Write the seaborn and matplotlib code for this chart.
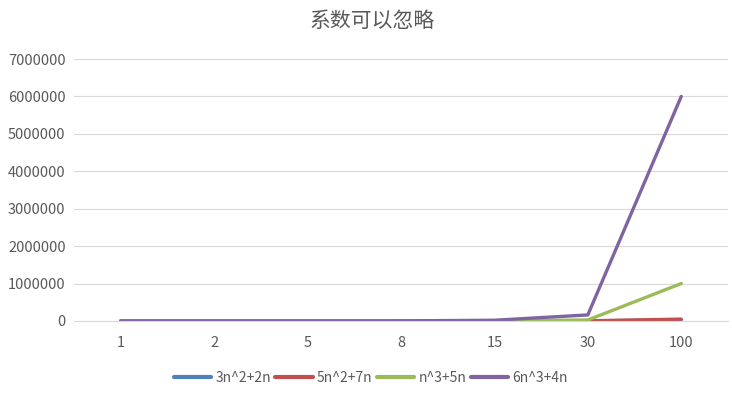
import matplotlib
matplotlib.use("Agg")
import matplotlib.pyplot as plt
import seaborn as sns
import pandas as pd
from matplotlib.ticker import FuncFormatter

categories = ["1", "2", "5", "8", "15", "30", "100"]
s1 = [5, 16, 85, 208, 705, 2760, 30200]
s2 = [12, 34, 160, 376, 1230, 4710, 50700]
s3 = [6, 18, 150, 552, 3450, 27150, 1000500]
s4 = [10, 56, 770, 3104, 20310, 162120, 6000400]
series_names = ["3n^2+2n", "5n^2+7n", "n^3+5n", "6n^3+4n"]
colors = ["#4F81BD", "#C0504D", "#9BBB59", "#8064A2"]
title = "系数可以忽略"

sns.set_theme(style="white")
plt.rcParams['font.family'] = ['Noto Sans CJK SC', 'DejaVu Sans']

rows = []
for name, vals in zip(series_names, [s1, s2, s3, s4]):
    for c, v in zip(categories, vals):
        rows.append({"n": c, "value": v, "series": name})
df = pd.DataFrame(rows)

fig = plt.figure(figsize=(7.32, 3.96), dpi=100)
ax = fig.add_axes([0.101, 0.1894, 0.8935, 0.6616])
sns.lineplot(data=df, x="n", y="value", hue="series", hue_order=series_names,
             palette=colors, linewidth=2.4, ax=ax, sort=False)
ax.set_xlim(-0.5, 6.5)
ax.set_ylim(0, 7000000)
ax.set_yticks(range(0, 7000001, 1000000))
ax.yaxis.set_major_formatter(FuncFormatter(lambda v, p: f"{int(v)}"))
ax.grid(axis="y", color="#D9D9D9", linewidth=0.8)
ax.set_axisbelow(True)
for s in ["top", "right", "left"]:
    ax.spines[s].set_visible(False)
ax.spines["bottom"].set_color("#D9D9D9")
ax.spines["bottom"].set_linewidth(0.8)
ax.tick_params(axis="both", length=0, colors="#595959", labelsize=10.5)
ax.tick_params(axis="x", pad=11)
ax.tick_params(axis="y", pad=6)
ax.set_xlabel("")
ax.set_ylabel("")
fig.text(0.508, 0.948, title, ha="center", va="center", fontsize=15, color="#595959")
ax.legend(loc="center", bbox_to_anchor=(0.454, -0.217), ncol=4, frameon=False,
          fontsize=10, labelcolor="#595959", handlelength=2.7, handletextpad=0.3,
          columnspacing=0.3)
for line in ax.get_legend().get_lines():
    line.set_linewidth(3)
fig.savefig("out.png", dpi=100)
